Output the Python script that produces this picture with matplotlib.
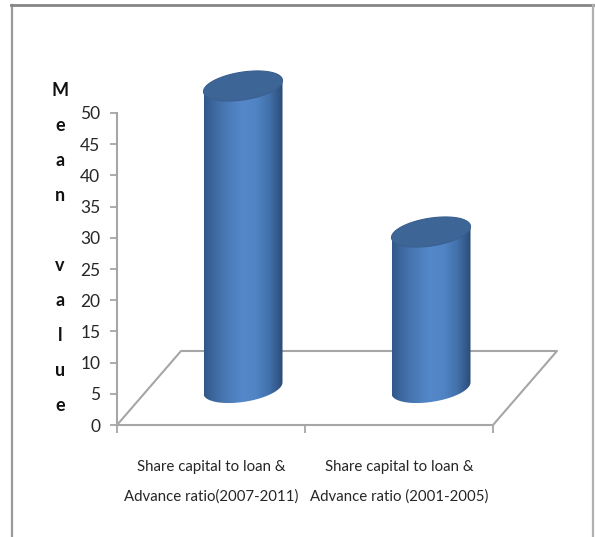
import numpy as np
import matplotlib
matplotlib.use("Agg")
import matplotlib.pyplot as plt
from matplotlib.colors import LinearSegmentedColormap
from matplotlib.patches import Polygon

# Chart values
categories = ["Share capital to loan &\nAdvance ratio(2007-2011)",
              "Share capital to loan &\nAdvance ratio (2001-2005)"]
mean_values = [48.4, 25.0]
y_ticks = list(range(0, 55, 5))
axis_title = "M\ne\na\nn\n\nv\na\nl\nu\ne"

W, H = 595, 537
plt.rcParams["font.family"] = ["Lato", "DejaVu Sans"]
fig = plt.figure(figsize=(W / 100, H / 100), dpi=100, facecolor="white")

# Plot box on the canvas, in pixels
left, right, top, bottom = 117, 493, 113, 425
ax = fig.add_axes([left / W, 1 - bottom / H, (right - left) / W, (bottom - top) / H])
ax.patch.set_alpha(0)
ax.set_xlim(0, 2)
ax.set_ylim(0, 50)

# Oblique projection of the floor, in data units
depth_x = 64 / 188
depth_y = 74 / 6.24
half_w = 39.5 / 188
ring_h = 14.0 / 6.24
ring_tilt = 5.5 / 6.24

GREY = "#a6a6a6"
floor_kw = dict(color=GREY, lw=1.5, clip_on=False, zorder=1, solid_capstyle="round")
ax.plot([0, depth_x, 2 + depth_x, 2], [0, depth_y, depth_y, 0], **floor_kw)

body_cmap = LinearSegmentedColormap.from_list(
    "cyl",
    [(0.0, "#31588a"), (0.12, "#3d689f"), (0.3, "#4a7bb8"), (0.48, "#5488ca"),
     (0.66, "#5084c4"), (0.82, "#4372ad"), (0.94, "#33598a"), (1.0, "#2b4b75")],
)

t = np.linspace(0, 2 * np.pi, 181)
for i, value in enumerate(mean_values):
    cx = i + 0.5 + depth_x / 2
    base = depth_y / 2

    # Outline of a ring: an ellipse sheared so its right side rises
    ring_x = cx + half_w * np.cos(t)
    ring_off = ring_h * np.sin(t) + ring_tilt * np.cos(t)

    # Body: lower half of the base ring joined to the upper ring's side points
    lower = np.pi <= t
    bx = cx + half_w * np.cos(t[lower])
    by = base + ring_h * np.sin(t[lower]) + ring_tilt * np.cos(t[lower])
    body_xy = np.vstack([
        np.column_stack([bx, by]),
        [[cx + half_w, base + value + ring_tilt], [cx - half_w, base + value - ring_tilt]],
    ])
    body = Polygon(body_xy, closed=True, transform=ax.transData, facecolor="none", edgecolor="none")
    ax.add_patch(body)
    img = ax.imshow(
        np.linspace(0, 1, 256)[None, :], cmap=body_cmap, aspect="auto",
        extent=(cx - half_w, cx + half_w, 0, 70), zorder=3,
    )
    img.set_clip_box(fig.bbox)
    img.set_clip_path(body)

    # Top cap
    ax.add_patch(Polygon(np.column_stack([ring_x, base + value + ring_off]), closed=True,
                         facecolor="#3d6595", edgecolor="#3a6090", lw=0.8,
                         clip_on=False, zorder=4))

ax.set_xlim(0, 2)
ax.set_ylim(0, 50)

for side in ("top", "right"):
    ax.spines[side].set_visible(False)
for side in ("left", "bottom"):
    ax.spines[side].set_color(GREY)
    ax.spines[side].set_linewidth(1.5)

ax.set_yticks(y_ticks)
ax.set_xticks([0, 1, 2])
ax.set_xticklabels([])
ax.tick_params(axis="y", length=5, width=1.3, color=GREY, labelsize=12.5, labelcolor="#262626", pad=7)
ax.tick_params(axis="x", length=6, width=1.3, color=GREY)

for i, name in enumerate(categories):
    ax.annotate(name, xy=(i + 0.5, 0), xycoords="data", xytext=(0, -25), textcoords="offset points",
                ha="center", va="top", fontsize=10.8, color="#262626", linespacing=2.35)

fig.text(60 / W, 1 - 248 / H, axis_title, ha="center", va="center",
         fontsize=13, fontweight="bold", color="#111111", linespacing=2.28)

# Frame around the chart: open at the bottom
frame = fig.add_axes([0, 0, 1, 1], zorder=-1)
frame.set_xlim(0, W)
frame.set_ylim(H, 0)
frame.axis("off")
frame.plot([11.5, 11.5], [H, 5], color="#9a9a9a", lw=1.6)
frame.plot([11, 593], [5, 5], color="#858585", lw=2)
frame.plot([593, 593], [5, H], color="#b0b0b0", lw=1.6)

fig.savefig("out.png", dpi=100, facecolor="white")
